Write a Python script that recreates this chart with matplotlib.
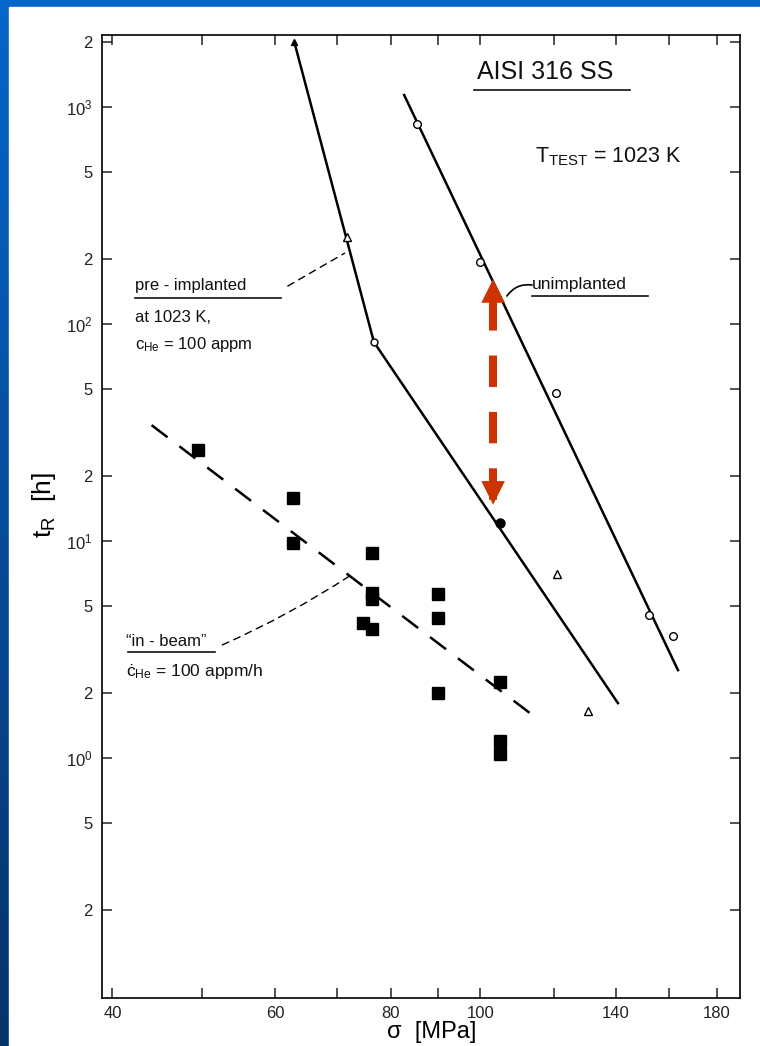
import matplotlib
matplotlib.use("Agg")
import numpy as np
import matplotlib.pyplot as plt
from matplotlib.patches import Rectangle
from matplotlib.ticker import FixedLocator, FixedFormatter, NullLocator

# stress sigma [MPa] and rupture time t_R [h]
unimpl_line_s = [82.7, 163.5]
unimpl_line_t = [1136, 2.54]
unimpl_pts_s = [85.4, 100, 120.7, 152, 161.5]
unimpl_pts_t = [835, 193, 48, 4.56, 3.65]

pre_line_s = [62.9, 76.7, 140.8]
pre_line_t = [2000, 82.6, 1.79]
pre_tri_s = [71.7, 120.9, 130.7]
pre_tri_t = [252, 7.05, 1.65]
pre_open_s = [76.7]
pre_open_t = [82.6]
pre_fill_s = [105]
pre_fill_t = [12.1]
pre_top_s = [62.9]
pre_top_t = [2000]

beam_line_s = [44.1, 113.1]
beam_line_t = [34.2, 1.61]
beam_s = [49.5, 62.7, 62.7, 76.3, 76.3, 76.3, 74.6, 76.3, 90, 90, 90, 105, 105, 105]
beam_t = [26.3, 15.8, 9.8, 8.8, 5.76, 5.4, 4.19, 3.93, 5.7, 4.42, 2.0, 2.24, 1.2, 1.04]

# red double arrow: gap between unimplanted and pre-implanted at ~103 MPa
arrow_s = 103.2
arrow_t = [161, 14.7]

x_ticks = [40, 50, 60, 70, 80, 90, 100, 120, 140, 160, 180]
x_tick_labels = ["40", "", "60", "", "80", "", "100", "", "140", "", "180"]
y_ticks = [0.2, 0.5, 1, 2, 5, 10, 20, 50, 100, 200, 500, 1000, 2000]
y_tick_labels = ["2", "5", "$10^0$", "2", "5", "$10^1$", "2", "5", "$10^2$",
                 "2", "5", "$10^3$", "2"]

FONT = ["Liberation Sans", "DejaVu Sans"]
plt.rcParams["font.family"] = FONT
plt.rcParams["mathtext.fontset"] = "custom"
plt.rcParams["mathtext.rm"] = "Liberation Sans"
plt.rcParams["mathtext.it"] = "Liberation Sans:italic"
plt.rcParams["mathtext.bf"] = "Liberation Sans:bold"

W, H = 760, 1046
fig = plt.figure(figsize=(W / 100, H / 100), dpi=100)

# slide background: blue gradient with a white sheet on top
bg = fig.add_axes([0, 0, 1, 1])
grad = np.linspace(0, 1, 256).reshape(-1, 1)
top_c = np.array([0.02, 0.40, 0.79])
bot_c = np.array([0.02, 0.20, 0.42])
img = top_c + (bot_c - top_c) * grad[..., None]
bg.imshow(img, aspect="auto", extent=[0, 1, 0, 1], origin="upper")
bg.add_patch(Rectangle((9 / W, 0), 1, 1 - 7 / H, color="white"))
bg.set_xlim(0, 1)
bg.set_ylim(0, 1)
bg.axis("off")

left, right, top, bottom = 102, 740, 35, 998
ax = fig.add_axes([left / W, 1 - bottom / H, (right - left) / W, (bottom - top) / H])
ax.set_xscale("log")
ax.set_yscale("log")
ax.set_xlim(38.98, 190.8)
ax.set_ylim(0.0783, 2148)

for sp in ax.spines.values():
    sp.set_linewidth(1.2)

ax.xaxis.set_major_locator(FixedLocator(x_ticks))
ax.xaxis.set_major_formatter(FixedFormatter(x_tick_labels))
ax.xaxis.set_minor_locator(NullLocator())
ax.yaxis.set_major_locator(FixedLocator(y_ticks))
ax.yaxis.set_major_formatter(FixedFormatter(y_tick_labels))
ax.yaxis.set_minor_locator(NullLocator())
ax.tick_params(which="major", direction="in", length=7, width=1.1,
               top=True, right=True, labelsize=12, colors="#222222")
ax.tick_params(axis="x", pad=6)
ax.tick_params(axis="y", pad=7)

lw = 1.8
ax.plot(unimpl_line_s, unimpl_line_t, color="black", lw=lw)
ax.plot(unimpl_pts_s, unimpl_pts_t, "o", ms=5.5, mfc="white", mec="black", mew=1.0)

ax.plot(pre_line_s, pre_line_t, color="black", lw=lw)
ax.plot(pre_tri_s, pre_tri_t, "^", ms=6, mfc="white", mec="black", mew=1.0)
ax.plot(pre_open_s, pre_open_t, "o", ms=5, mfc="white", mec="black", mew=1.0)
ax.plot(pre_fill_s, pre_fill_t, "o", ms=6.5, color="black")
ax.plot(pre_top_s, pre_top_t, "^", ms=5, color="black")

ax.plot(beam_line_s, beam_line_t, color="black", lw=lw, dashes=(8, 6))
ax.plot(beam_s, beam_t, "s", ms=8, color="black")

# red dashed double arrow
red = "#CC3300"
ax.plot([arrow_s, arrow_s], arrow_t, color=red, lw=5.8,
        linestyle=(4.5, (3.9, 3.1)), solid_capstyle="butt", dash_capstyle="butt")
for tip, off in ((arrow_t[0], -17), (arrow_t[1], 17)):
    ax.annotate("", xy=(arrow_s, tip), xytext=(0, off), textcoords="offset points",
                arrowprops=dict(arrowstyle="-|>,head_length=1.0,head_width=0.5",
                                mutation_scale=17, fc=red, ec="none", lw=0,
                                shrinkA=0, shrinkB=0))

# leaders
ax.annotate("", xy=(71.3, 212), xytext=(61.9, 149.6),
            arrowprops=dict(arrowstyle="-", lw=1.0, ls=(0, (5, 4)), color="black",
                            shrinkA=0, shrinkB=0))
ax.annotate("", xy=(72.2, 6.9), xytext=(52.6, 3.32),
            arrowprops=dict(arrowstyle="-", lw=1.0, ls=(0, (5, 4)), color="black",
                            shrinkA=0, shrinkB=0, connectionstyle="arc3,rad=0.04"))
ax.annotate("", xy=(106.8, 134.6), xytext=(113.7, 151.3),
            arrowprops=dict(arrowstyle="-", lw=1.2, color="black",
                            shrinkA=0, shrinkB=0, connectionstyle="arc3,rad=0.3"))


def fx(px):
    return (px - left) / (right - left)


def fy(py):
    return (bottom - py) / (bottom - top)


def label(px, py, s, size, ul=None):
    ax.text(fx(px), fy(py), s, transform=ax.transAxes, fontsize=size,
            ha="left", va="center", color="#111111")
    if ul:
        ax.plot([fx(ul[0]), fx(ul[1])], [fy(ul[2]), fy(ul[2])], color="#111111",
                lw=1.2, transform=ax.transAxes, clip_on=False)


label(477, 72, "AISI 316 SS", 18, ul=(474, 630, 90))
label(535, 157, r"T$_{\rm TEST}$ = 1023 K", 15.5)
label(532, 284, "unimplanted", 12.5, ul=(532, 648, 296))
label(135, 286, "pre - implanted", 12, ul=(135, 281, 298))
label(135, 318, "at 1023 K,", 12)
label(135, 345, r"c$_{\rm He}$ = 100 appm", 12)
label(126, 642, "\u201cin - beam\u201d", 12, ul=(128, 215, 652))
label(126, 672, "\u010b$_{\\rm He}$ = 100 appm/h", 12.5)

ax.set_xlabel("\u03c3  [MPa]", fontsize=17)
ax.set_ylabel(r"t$_{\rm R}$  [h]", fontsize=19)
ax.xaxis.set_label_coords(fx(432), fy(1021))
ax.yaxis.set_label_coords(fx(58), fy(505))

fig.savefig("out.png", dpi=100)
